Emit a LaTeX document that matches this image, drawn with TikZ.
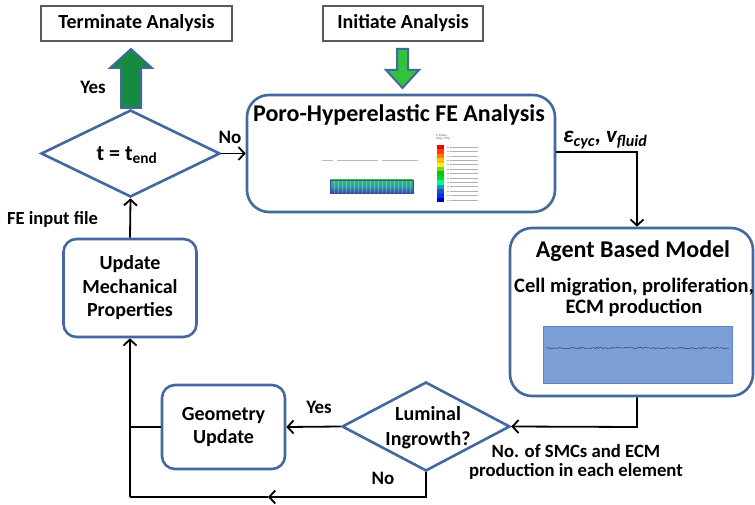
\documentclass[tikz,border=0pt]{standalone}
\usepackage{fontspec}
\setmainfont{Carlito}
\usetikzlibrary{shapes.geometric,arrows.meta,calc}
\definecolor{frameblue}{RGB}{66,104,158}
\definecolor{termgray}{RGB}{90,90,90}
\definecolor{startgreen}{RGB}{48,196,62}
\definecolor{stopgreen}{RGB}{22,138,62}
\definecolor{abmfill}{RGB}{124,160,214}
\definecolor{abmedge}{RGB}{92,130,196}
\definecolor{meshtop}{RGB}{50,190,80}
\definecolor{meshmid}{RGB}{30,160,170}
\definecolor{meshbot}{RGB}{60,60,175}
\begin{document}
\begin{tikzpicture}[x=1pt,y=-1pt,
  lbl/.style={font=\bfseries\fontsize{19}{23}\selectfont, align=center, inner sep=0pt},
  endbox/.style={draw=termgray, line width=1.2pt, fill=white, inner sep=0pt,
    font=\bfseries\fontsize{20}{23}\selectfont},
  stagebox/.style={draw=frameblue, line width=2.6pt, rounded corners=13pt, fill=white,
    inner sep=0pt, align=center, font=\bfseries\fontsize{20}{23.5}\selectfont},
  bigbox/.style={draw=frameblue, line width=2.6pt, rounded corners=22pt, fill=white, inner sep=0pt},
  decision/.style={draw=frameblue, line width=2.6pt, diamond, fill=white, inner sep=0pt, aspect=2},
  dectext/.style={inner sep=0pt, align=center, font=\bfseries\fontsize{20}{25}\selectfont},
  flow/.style={draw=black, line width=1.8pt, -{Straight Barb[length=6pt,width=13pt,line width=1.8pt]}},
  plainflow/.style={draw=black, line width=1.8pt},
  blockarrow/.style={draw=frameblue, line width=2pt, line join=miter}
]
\useasboundingbox (0,0) rectangle (755,505);

% ---------- terminal boxes ----------
\node[endbox, minimum width=191, minimum height=35] (term) at (136.5,23.5) {Terminate Analysis};
\node[endbox, minimum width=160, minimum height=35] (init) at (403,23.5) {Initiate Analysis};

% ---------- decision t = t_end ----------
\node[decision, minimum width=179, minimum height=87] (tdec) at (130.5,153.5) {};
\node[dectext, font=\bfseries\fontsize{22}{25}\selectfont] (tdectext) at (127,155)
  {t = t\textsubscript{end}};

% ---------- FE analysis box ----------
\node[bigbox, minimum width=308, minimum height=117] (fe) at (401,153.5) {};
\node[inner sep=0pt, font=\bfseries\fontsize{24}{28}\selectfont] (fetitle) at (399,115)
  {Poro-Hyperelastic FE Analysis};

% undeformed outline (dashed gray segments)
\draw[gray!55, line width=1pt] (322,161) -- (333,161);
\draw[gray!55, line width=1pt] (337,161) -- (378,161);
\draw[gray!55, line width=1pt] (382,161) -- (418,161);
% deformed mesh strip: green on top, teal in the middle, blue at the bottom
\shade[top color=meshtop, bottom color=meshmid] (330,180) rectangle (413,186.5);
\shade[top color=meshmid, bottom color=meshbot] (330,186.5) rectangle (413,193);
\foreach \i in {1,...,20}
  \draw[white, opacity=0.3, line width=0.4pt] ({330+\i*4},180) -- ({330+\i*4},193);
\draw[meshbot!80!meshmid, line width=0.5pt] (330,180) rectangle (413,193);

% contour legend
\node[anchor=west, inner sep=0pt, font=\fontsize{3.2}{3.6}\selectfont, text=gray!70!black,
  align=left] (legendhead) at (436,137) {S, Mises\\(Avg: 75\%)};
\foreach \c [count=\k from 0] in {red, red!50!orange, orange, orange!50!yellow, yellow,
    yellow!50!green, green!80!black, green!70!teal, green!50!cyan, cyan!80!blue,
    cyan!30!blue, blue!80!cyan, blue!70!black} {
  \fill[\c] (437,{145+\k*4.4}) rectangle (444,{145+(\k+1)*4.4});
  \draw[gray!60, line width=0.6pt] (447,{147.2+\k*4.4}) -- (449,{147.2+\k*4.4});
  \draw[gray!60, line width=0.6pt] (450,{147.2+\k*4.4}) -- (478,{147.2+\k*4.4});
}

% ---------- agent based model box ----------
\node[bigbox, minimum width=243, minimum height=168] (abm) at (631.5,312) {};
\node[inner sep=0pt, font=\bfseries\fontsize{24}{28}\selectfont] (abmtitle) at (633,251)
  {Agent Based Model};
\node[inner sep=0pt, font=\bfseries\fontsize{20.5}{21}\selectfont, align=center] (abmtext) at (634,297)
  {Cell migration, proliferation,\\ECM production};
\node[draw=abmedge, line width=0.8pt, fill=abmfill, minimum width=189, minimum height=57,
  inner sep=0pt] (abmimg) at (637.5,354.5) {};
\pgfmathsetseed{7}
\draw[blue!45!black, opacity=0.55, line width=0.6pt]
  plot[domain=546:729, samples=120] (\x,{348+0.9*rand});

% ---------- lower loop ----------
\node[decision, minimum width=168, minimum height=89] (lum) at (426,426.5) {};
\node[dectext] (lumtext) at (428,428) {Luminal\\Ingrowth?};
\node[stagebox, minimum width=123, minimum height=84] (geo) at (223.5,427) {Geometry\\Update};
\node[stagebox, minimum width=133, minimum height=98] (mech) at (130,288)
  {Update\\Mechanical\\Properties};

\coordinate (corner) at (637,427);
\coordinate (loopmid) at (268,497);
\coordinate (loopleft) at (130,497);

% ---------- block arrows ----------
\filldraw[blockarrow, fill=startgreen]
  (397,49) -- (408,49) -- (408,70) -- (419,70) -- (402.5,88) -- (386,70) -- (397,70) -- cycle;
\filldraw[blockarrow, fill=stopgreen]
  (121,108) -- (141,108) -- (141,68) -- (152,68) -- (131,49) -- (110,68) -- (121,68) -- cycle;
\node[lbl] (yes1) at (93,87) {Yes};

% ---------- connectors ----------
\draw[flow] (tdec.east) -- (fe.west);
\node[lbl] (no1) at (230,137) {No};

\draw[flow] (fe.east |- 0,152) -| ([xshift=5.5pt]abm.north);
\node[anchor=west, inner sep=0pt, font=\bfseries\itshape\fontsize{23}{26}\selectfont] (strain)
  at (563,140) {ε\textsubscript{cyc}, v\textsubscript{fluid}};

\draw[flow] (abm.south -| corner) -- (corner) -- (lum.east);
\node[lbl, font=\bfseries\fontsize{18.7}{19.5}\selectfont] (smc) at (576,462)
  {No. of SMCs and ECM\\production in each element};

\draw[flow] (lum.west) -- (geo.east);
\node[lbl] (yes2) at (319,407) {Yes};

\draw[plainflow] (geo.west) -- (geo.west -| mech.south);

\draw[flow] (lum.south) |- (loopmid);
\draw[plainflow] (loopmid) -- (loopleft);
\draw[flow] (loopleft) -- (mech.south);
\node[lbl] (no2) at (383,478) {No};

\draw[flow] (mech.north) -- (tdec.south);
\node[lbl, font=\bfseries\fontsize{18.5}{22}\selectfont] (feinput) at (52.5,219) {FE input file};
\end{tikzpicture}
\end{document}
